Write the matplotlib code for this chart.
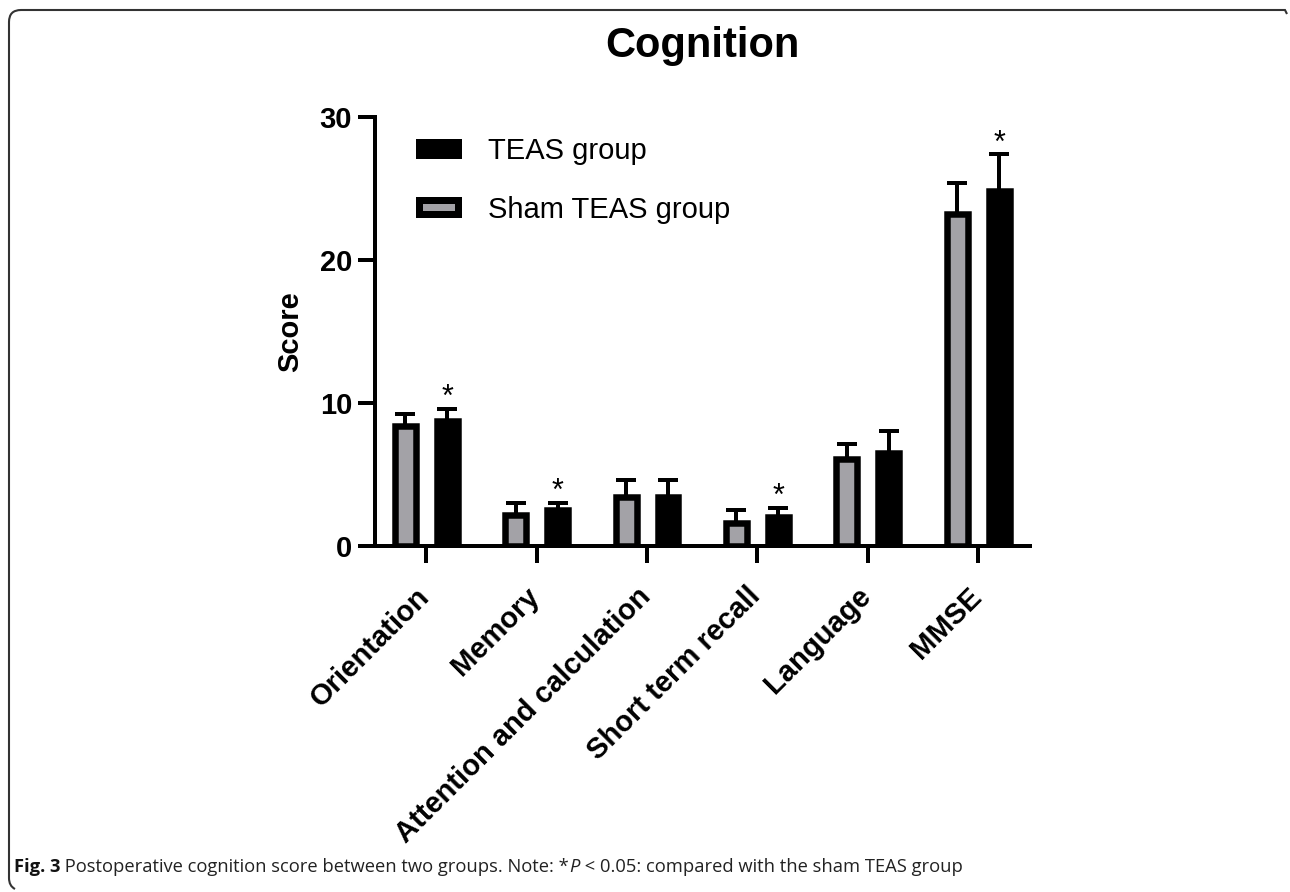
import matplotlib
matplotlib.use("Agg")
import matplotlib.pyplot as plt
import matplotlib.transforms as mtrans
import numpy as np
from matplotlib.patches import Patch
from matplotlib.path import Path
from matplotlib.patches import PathPatch

# ---- data ----
categories = ["Orientation", "Memory", "Attention and calculation",
              "Short term recall", "Language", "MMSE"]
sham_mean = [8.4, 2.2, 3.4, 1.6, 6.1, 23.2]
sham_sd = [0.84, 0.84, 1.2, 0.9, 1.05, 2.2]
teas_mean = [8.75, 2.5, 3.4, 2.0, 6.5, 24.8]
teas_sd = [0.84, 0.5, 1.25, 0.65, 1.55, 2.6]
significant = [True, True, False, True, False, True]
yticks = [0, 10, 20, 30]
series_names = ["TEAS group", "Sham TEAS group"]

W, H = 1290, 892
DPI = 100
fig = plt.figure(figsize=(W / DPI, H / DPI), dpi=DPI)
px = 72.0 / DPI  # points per pixel

ax = fig.add_axes([375 / W, 1 - 546 / H, 655 / W, 429 / H])

GRAY = "#a3a2a7"
x = np.arange(len(categories))
bw = 0.19
off = 0.19
lw = 6.5 * px

ax.bar(x - off, sham_mean, width=bw, color=GRAY, edgecolor="black",
       linewidth=lw, zorder=2)
ax.bar(x + off, teas_mean, width=bw, color="black", edgecolor="black",
       linewidth=lw, zorder=2)
for xs, m, s in ((x - off, sham_mean, sham_sd), (x + off, teas_mean, teas_sd)):
    ax.errorbar(xs, m, yerr=[np.zeros(len(s)), s], fmt="none",
                ecolor="black", elinewidth=4 * px, capsize=7 * px * 1.4,
                capthick=4 * px, zorder=3)

for i, sig in enumerate(significant):
    if sig:
        ax.text(x[i] + off, teas_mean[i] + teas_sd[i] + 0.75, "*",
                ha="center", va="center", fontsize=22,
                family="Liberation Sans")

ax.set_xlim(-0.465, len(categories) - 1 + 0.47)
ax.set_ylim(0, 30)
ax.set_yticks(yticks)
ax.set_xticks(x)
ax.tick_params(axis="y", length=17 * px, width=4 * px, pad=6 * px)
ax.tick_params(axis="x", length=17 * px, width=4 * px, pad=12 * px)
ax.set_xticklabels(categories, rotation=45, ha="right",
                   rotation_mode="anchor", fontsize=21, fontweight="bold",
                   family="Liberation Sans")
shift = mtrans.ScaledTranslation(-11 / DPI, -7 / DPI, fig.dpi_scale_trans)
for lab in ax.get_xticklabels():
    lab.set_transform(lab.get_transform() + shift)
for lab in ax.get_yticklabels():
    lab.set_fontweight("bold")
    lab.set_family("Liberation Sans")
    lab.set_fontsize(21)
for sp in ("top", "right"):
    ax.spines[sp].set_visible(False)
for sp in ("left", "bottom"):
    ax.spines[sp].set_linewidth(4 * px)
ax.set_ylabel("Score", fontsize=21, fontweight="bold",
              family="Liberation Sans", labelpad=11)

handles = [Patch(facecolor="black", edgecolor="black", linewidth=7 * px),
           Patch(facecolor=GRAY, edgecolor="black", linewidth=7 * px)]
ax.legend(handles, series_names, loc="upper left",
          bbox_to_anchor=(44 / 655, 1 - 20 / 429), frameon=False,
          prop={"family": "Liberation Sans", "size": 21},
          handlelength=1.34, handleheight=0.34, handletextpad=1.04,
          labelspacing=1.05, borderpad=0, borderaxespad=0)

fig.text(702 / W, 1 - 57 / H, "Cognition", ha="center", va="baseline",
         fontsize=30, fontweight="bold", family="Liberation Sans")

# caption
CAP = 13.2
t1 = fig.text(14 / W, 1 - 872 / H, "Fig. 3", ha="left", va="baseline",
              fontsize=CAP, fontweight="bold", family="Open Sans",
              color="#111111")
a2 = ax.annotate(" Postoperative cognition score between two groups. Note: *",
                 xy=(1, 0), xycoords=t1, va="bottom", ha="left",
                 fontsize=CAP, family="Open Sans", color="#222222",
                 annotation_clip=False)
a3 = ax.annotate("P", xy=(1, 0), xycoords=a2, va="bottom", ha="left",
                 fontsize=CAP, family="Open Sans", style="italic",
                 color="#222222", annotation_clip=False)
ax.annotate(" < 0.05: compared with the sham TEAS group", xy=(1, 0),
            xycoords=a3, va="bottom", ha="left", fontsize=CAP,
            family="Open Sans", color="#222222", annotation_clip=False)

# frame
verts = [(1287, 14), (1285, 10), (21, 10), (9, 10), (9, 22), (9, 878),
         (9, 886), (15, 889)]
codes = [Path.MOVETO, Path.LINETO, Path.LINETO, Path.CURVE3, Path.CURVE3,
         Path.LINETO, Path.CURVE3, Path.CURVE3]
verts = [(vx / W, 1 - vy / H) for vx, vy in verts]
fig.add_artist(PathPatch(Path(verts, codes), transform=fig.transFigure,
                         facecolor="none", edgecolor="#333333", linewidth=1.5))

fig.savefig("out.png", dpi=DPI)
